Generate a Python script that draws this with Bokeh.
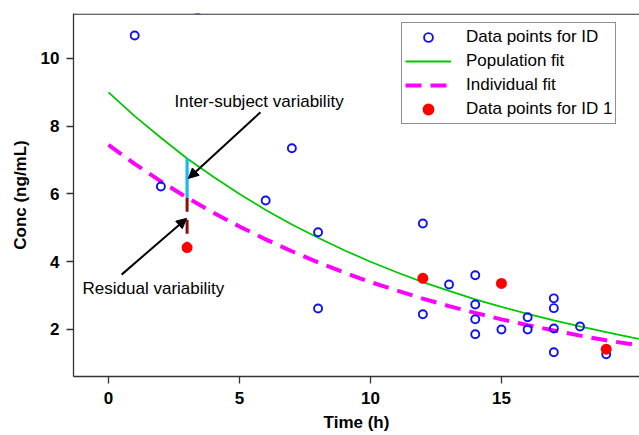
from bokeh.plotting import figure
from bokeh.models import (Legend, LegendItem, Span, Arrow,
                          NormalHead, Label, Range1d, FixedTicker)
from bokeh.embed import file_html
from bokeh.resources import INLINE

# ---------------- data ----------------
obs_time = [1, 3.4, 2, 6, 7, 8, 8, 12, 12, 13, 14, 14, 14, 14, 15, 16, 16,
            17, 17, 17, 17, 18, 19]
obs_conc = [10.68, 11.45, 6.22, 5.81, 7.35, 4.87, 2.62, 5.13, 2.45, 3.33,
            3.60, 2.74, 2.30, 1.86, 2.00, 2.36, 2.00, 2.92, 2.63, 2.03, 1.33,
            2.09, 1.27]

id1_time = [3, 12, 15, 19]
id1_conc = [4.42, 3.51, 3.36, 1.42]

pop_time = [0, 1, 2, 3, 4, 5, 6, 7, 8, 9, 10, 11, 12, 13, 14, 15, 16, 17,
            18, 19, 20, 21]
pop_fit = [9.00, 8.30, 7.66, 7.05, 6.51, 6.00, 5.53, 5.10, 4.71, 4.34, 4.00,
           3.69, 3.40, 3.14, 2.89, 2.67, 2.46, 2.27, 2.09, 1.92, 1.76, 1.62]

ind_time = [0, 1, 2, 3, 4, 5, 6, 7, 8, 9, 10, 11, 12, 13, 14, 15, 16, 17,
            18, 19, 20]
ind_fit = [7.45, 6.89, 6.37, 5.89, 5.45, 5.04, 4.66, 4.31, 3.98, 3.68, 3.40,
           3.15, 2.91, 2.69, 2.49, 2.30, 2.13, 1.97, 1.82, 1.68, 1.56]

# variability illustration at t = 3 h
var_time = [3]
var_pop = [7.05]
var_ind = [5.89]
var_obs = [4.42]

x_ticks = [0, 5, 10, 15]
y_ticks = [2, 4, 6, 8, 10]

FONT = "Liberation Sans"

p = figure(width=639, height=435, output_backend="svg", toolbar_location=None,
           title=None,
           x_range=Range1d(-1.336, 20.27), y_range=Range1d(0.6126, 11.328),
           min_border_left=73, min_border_right=0, min_border_top=13,
           min_border_bottom=59)
p.outline_line_color = None
p.xgrid.visible = False
p.ygrid.visible = False
p.background_fill_color = "white"
p.border_fill_color = "white"

# lines
green = p.line(pop_time, pop_fit, line_color="#00C800", line_width=1.8)
magenta = p.line(ind_time, ind_fit, line_color="#FF00FF", line_width=4,
                 line_dash="16 9")

# variability segments
p.segment(x0=var_time, y0=var_pop, x1=var_time, y1=var_ind,
          line_color="#19B8F0", line_width=3.2)
p.segment(x0=var_time, y0=var_ind, x1=var_time, y1=var_obs,
          line_color="#8B1010", line_width=3, line_dash="14 8")

# points
blue = p.scatter(obs_time, obs_conc, marker="circle", size=8,
                 fill_color=None, line_color="#1010F0", line_width=1.9)
red = p.scatter(id1_time, id1_conc, marker="circle", size=8,
                fill_color="#FF0000", line_color="#FF0000", line_width=3)

# annotations
p.add_layout(Arrow(end=NormalHead(size=10, fill_color="black",
                                  line_color="black", line_width=1),
                   x_start=5.80, y_start=8.41, x_end=3.05, y_end=6.46,
                   line_color="black", line_width=2))
p.add_layout(Arrow(end=NormalHead(size=10, fill_color="black",
                                  line_color="black", line_width=1),
                   x_start=0.50, y_start=3.62, x_end=2.98, y_end=5.28,
                   line_color="black", line_width=2))
p.add_layout(Label(x=2.52, y=8.745, text="Inter-subject variability",
                   text_font=FONT, text_font_size="17px",
                   text_baseline="middle", text_align="left",
                   text_color="black"))
p.add_layout(Label(x=-0.99, y=3.196, text="Residual variability",
                   text_font=FONT, text_font_size="17px",
                   text_baseline="middle", text_align="left",
                   text_color="black"))

# top frame line
p.add_layout(Span(location=11.31, dimension="width", line_color="#333333",
                  line_width=1.3))

# axes
for ax in (p.xaxis[0], p.yaxis[0]):
    ax.axis_line_color = "#333333"
    ax.axis_line_width = 1.3
    ax.major_tick_line_color = "#333333"
    ax.major_tick_line_width = 1.3
    ax.major_tick_in = 0
    ax.major_tick_out = 7
    ax.minor_tick_line_color = None
    ax.major_label_text_font = FONT
    ax.major_label_text_font_size = "17px"
    ax.major_label_text_font_style = "bold"
    ax.major_label_text_color = "black"
    ax.axis_label_text_font = FONT
    ax.axis_label_text_font_size = "17px"
    ax.axis_label_text_font_style = "bold"
    ax.axis_label_text_color = "black"

p.xaxis.ticker = FixedTicker(ticks=x_ticks)
p.yaxis.ticker = FixedTicker(ticks=y_ticks)
p.xaxis.axis_label = "Time (h)"
p.yaxis.axis_label = "Conc (ng/mL)"
p.xaxis.major_label_standoff = 8
p.xaxis.axis_label_standoff = 6
p.yaxis.major_label_standoff = 7
p.yaxis.axis_label_standoff = 8

legend = Legend(items=[
    LegendItem(label="Data points for ID", renderers=[blue]),
    LegendItem(label="Population fit", renderers=[green]),
    LegendItem(label="Individual fit", renderers=[magenta]),
    LegendItem(label="Data points for ID 1", renderers=[red]),
], location=(328, 252))
legend.label_text_font = FONT
legend.label_text_font_size = "17px"
legend.label_text_color = "black"
legend.border_line_color = "#222222"
legend.border_line_width = 1.2
legend.background_fill_color = "white"
legend.background_fill_alpha = 1
legend.padding = 3
legend.spacing = 2
legend.margin = 0
legend.glyph_height = 22
legend.label_height = 22
legend.glyph_width = 46
legend.label_standoff = 15
p.add_layout(legend)

open("out.html", "w").write(file_html(p, INLINE))
